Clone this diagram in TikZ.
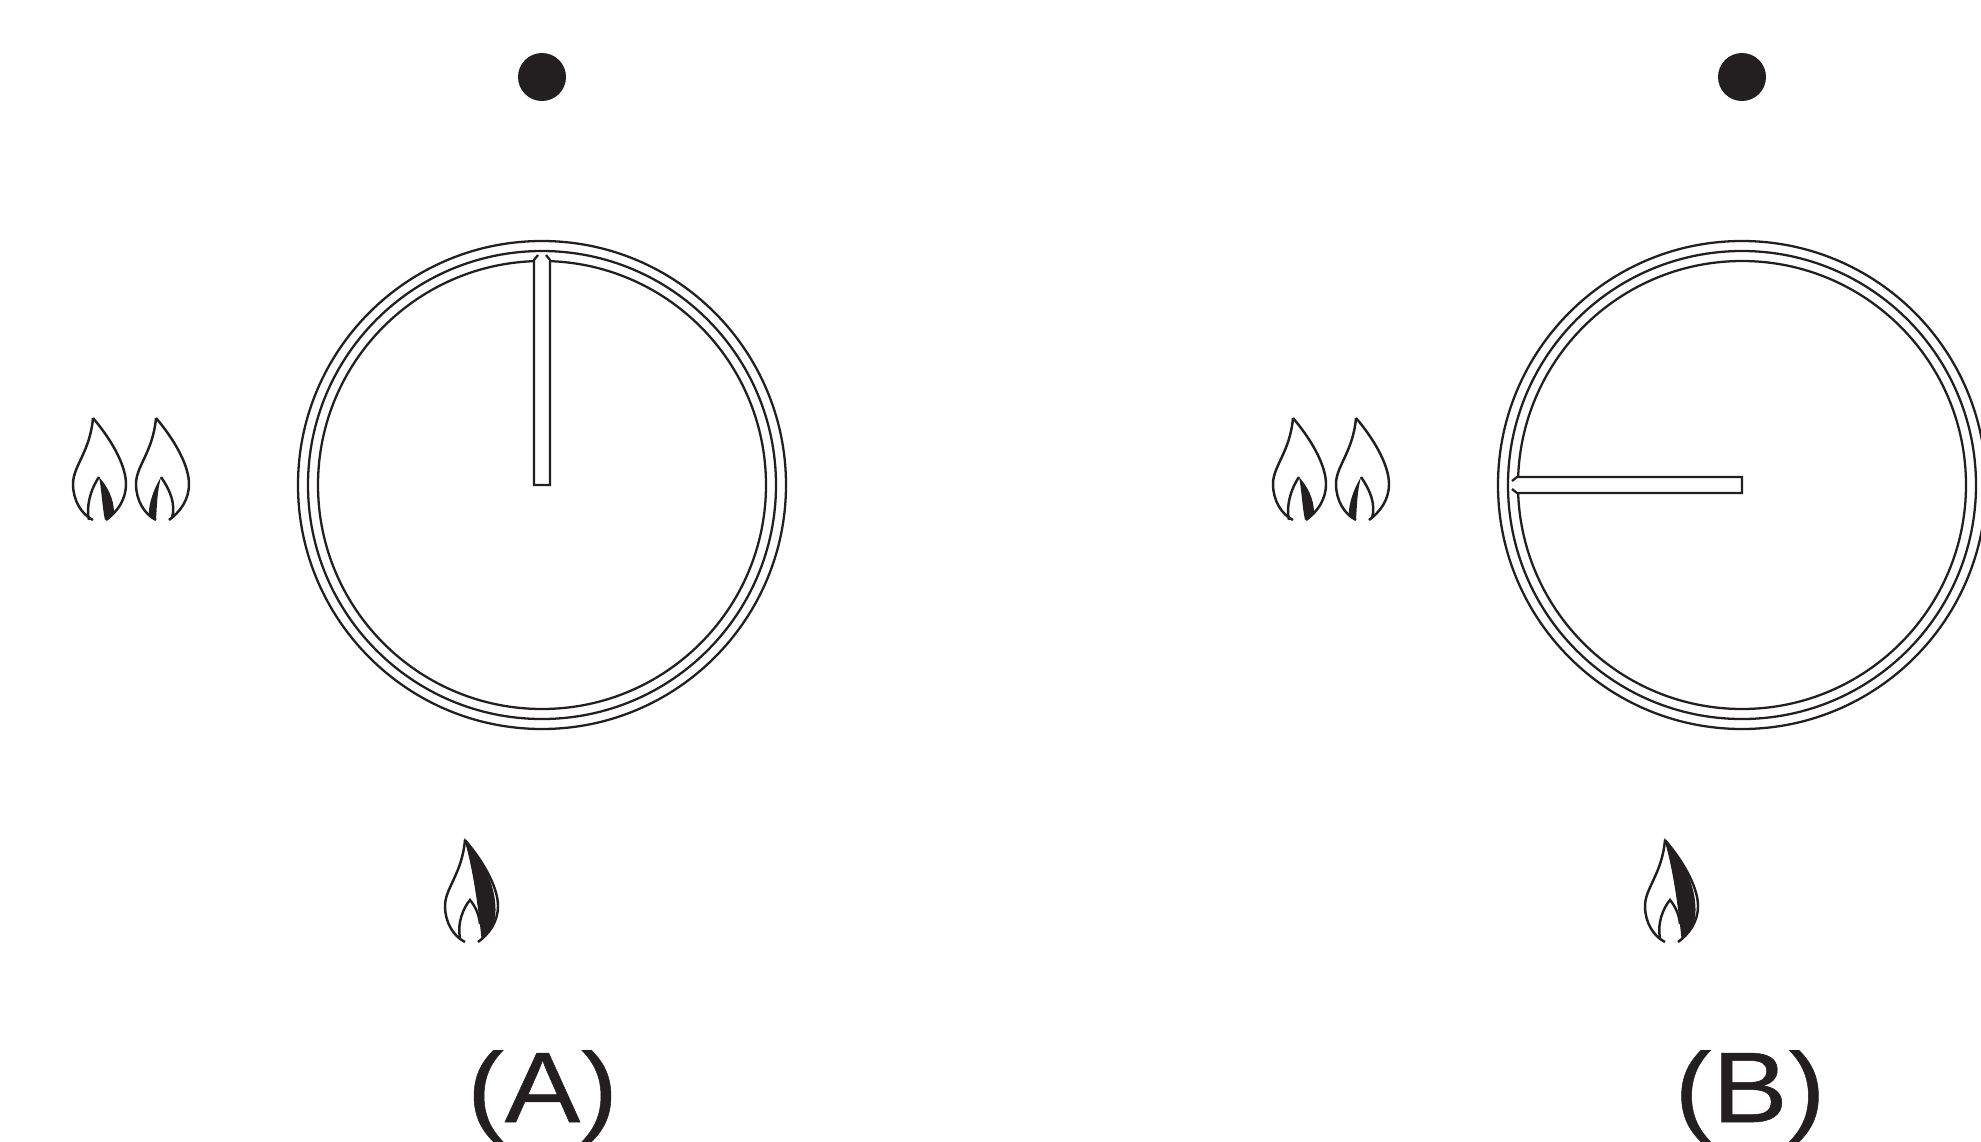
\documentclass[tikz,border=0pt]{standalone}
\usepackage{fontspec}
\setmainfont{Liberation Sans}
\newfontfamily\capfont[FakeStretch=1.13,FakeBold=0.5]{Liberation Sans}
\usetikzlibrary{positioning}
\definecolor{inkline}{HTML}{231F20}
\tikzset{
    ring/.style={draw=inkline, line width=0.65pt},
    flameline/.style={draw=inkline, line width=0.7pt, fill=white},
    flameblack/.style={fill=inkline, draw=inkline, line width=0.3pt},
    caption/.style={font=\capfont\fontsize{28.5pt}{28.5pt}\selectfont, text=inkline, inner sep=0pt, anchor=base},
}
% outline of a flame, tip at the origin
\newcommand{\flameoutline}{(0,0) .. controls (22,26) and (33,50) .. (33,66) .. controls (33,82) and (24,94) .. (13,102)
    (0,102) .. controls (-12,96) and (-20,82) .. (-20,66) .. controls (-20,48) and (-3,34) .. (0,0)}
\tikzset{
    flameleft/.pic={
        \draw[flameline] \flameoutline;
        \fill[inkline] (6,59) .. controls (14,68) and (21,80) .. (21,95) -- (12,102) .. controls (9,88) and (9,74) .. (6,59) -- cycle;
        \draw[flameline, fill=none] (-4,102) .. controls (-7,90) and (-3,72) .. (6,59);
    },
    flameright/.pic={
        \draw[flameline] \flameoutline;
        \fill[inkline] (5,59) .. controls (-3,72) and (-8,88) .. (-7,98) -- (0,102) .. controls (1,88) and (1,74) .. (5,59) -- cycle;
        \draw[flameline, fill=none] (5,59) .. controls (14,72) and (20,86) .. (16,100);
    },
    flamesingle/.pic={
        \draw[flameline] \flameoutline;
        \fill[flameblack] (0,0) .. controls (22,26) and (30,50) .. (30,70) .. controls (30,82) and (26,90) .. (17,98) .. controls (14,70) and (9,30) .. (0,0) -- cycle;
        \draw[flameline, fill=none] (-5,98) .. controls (-8,84) and (-2,68) .. (5,60) .. controls (10,66) and (14,74) .. (15,84);
    },
}
\begin{document}
\begin{tikzpicture}[x=0.01cm, y=-0.01cm]
    \useasboundingbox (0,0) rectangle (1981,1142);
    \foreach \dx/\lab/\ang/\labx in {0/A/0/542.5, 1200/B/90/550}{
        \begin{scope}[xshift=\dx*0.01cm]
            \fill[inkline] (542,77) circle (24);
            \draw[ring] (542,485) circle (244);
            \draw[ring] (542,485) circle (234);
            \draw[ring] (542,485) circle (224);
            \begin{scope}[shift={(542,485)}, rotate=\ang]
                % pointer, tip up before turning
                \fill[white] (-8,0) -- (-8,-225) -- (-4,-230) -- (4,-230) -- (8,-225) -- (8,0) -- cycle;
                \draw[ring] (-4,-230) -- (-8,-225) -- (-8,0) -- (8,0) -- (8,-225) -- (4,-230);
            \end{scope}
            \pic at (93,418) {flameleft};
            \pic at (156,418) {flameright};
            \pic at (465,840) {flamesingle};
            \begin{scope}
                \clip (0,1050) rectangle (1981,1142);
                \node[caption] (lab\lab) at (\labx,1122) {(\lab)};
            \end{scope}
        \end{scope}
    }
\end{tikzpicture}
\end{document}
